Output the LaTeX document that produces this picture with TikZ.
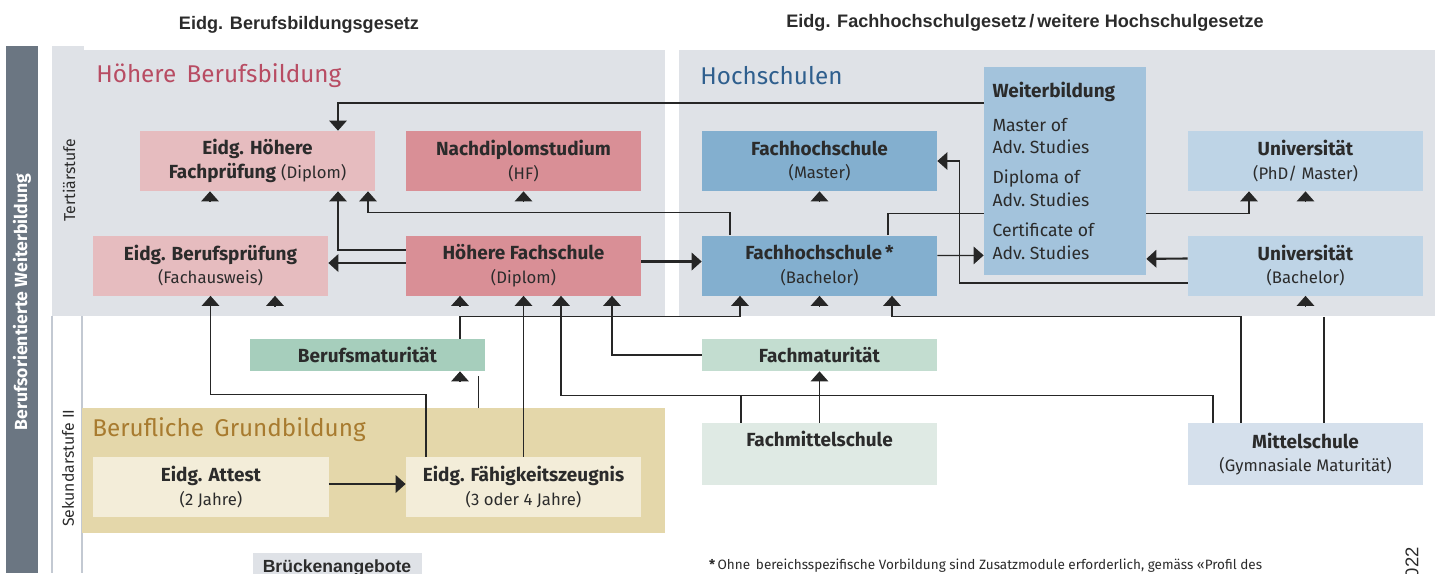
\documentclass[tikz,border=0pt]{standalone}
\usepackage{fontspec}
\setmainfont{Fira Sans}
\newfontfamily\arialfont{Liberation Sans}
\usetikzlibrary{arrows.meta,calc}

\definecolor{barcol}{HTML}{6B7682}
\definecolor{panel}{HTML}{DFE2E7}
\definecolor{seplin}{HTML}{C3C9D2}
\definecolor{pinkL}{HTML}{E6BCBF}
\definecolor{pinkD}{HTML}{D98F96}
\definecolor{blueD}{HTML}{83AFCF}
\definecolor{blueW}{HTML}{A3C3DC}
\definecolor{blueL}{HTML}{BED4E6}
\definecolor{greenD}{HTML}{A6CEBC}
\definecolor{greenM}{HTML}{C3DDD0}
\definecolor{greenL}{HTML}{DFEAE4}
\definecolor{msblue}{HTML}{D5E0EC}
\definecolor{gbcol}{HTML}{E4D7AA}
\definecolor{gbbox}{HTML}{F3EDD9}
\definecolor{hbbtitle}{HTML}{B84C63}
\definecolor{hstitle}{HTML}{2F5F8E}
\definecolor{gbtitle}{HTML}{A87B2F}
\definecolor{txt}{HTML}{2B2B2B}
\definecolor{linecol}{HTML}{262626}

\newcommand{\klein}[1]{{\fontsize{9.5}{13.5}\selectfont #1}}

\tikzset{
  box/.style={minimum width=47mm, minimum height=12mm, inner sep=0pt,
    align=center, text=txt, font=\fontsize{10.8}{13.5}\selectfont},
  flat/.style={box, minimum height=6.4mm},
  con/.style={draw=linecol, line width=0.7pt},
  heavy/.style={draw=linecol, line width=1.2pt},
  tip/.style={-{Triangle[width=3.5mm,length=2mm]}},
  title/.style={anchor=west, inner sep=0pt, font=\fontsize{13.8}{16}\selectfont},
  law/.style={font=\arialfont\bfseries\fontsize{10.3}{12}\selectfont, text=txt},
  stufe/.style={rotate=90, text=txt, font=\fontsize{9}{11}\selectfont}
}

\begin{document}
\begin{tikzpicture}[x=0.2mm,y=-0.2mm]
\useasboundingbox (0,0) rectangle (1435,573);

% Felder
\fill[barcol] (6,46) rectangle (38,573);
\fill[panel] (52,46) rectangle (84,316);
\fill[panel] (52,50) rectangle (665,316);
\fill[panel] (679,50) rectangle (1435,316);
\draw[seplin, line width=0.6pt] (52,316) -- (52,573);
\draw[seplin, line width=0.6pt] (82,316) -- (82,573);
\node[fill=gbcol, minimum width=116.6mm, minimum height=25mm, inner sep=0pt, anchor=north west] (gb) at (82,408) {};

\node[law] (bbg) at (299,25) {Eidg. Berufsbildungsgesetz};
\node[law] (fhg) at (1025,23) {Eidg. Fachhochschulgesetz\,/\,weitere Hochschulgesetze};
\node[rotate=90, text=white, font=\bfseries\fontsize{10}{12}\selectfont] (bar) at (22,302) {Berufsorientierte Weiterbildung};
\node[stufe] (tert) at (69,180) {Tertiärstufe};
\node[stufe] (sek) at (68,468) {Sekundarstufe II};

\node[title, text=hbbtitle] (hbb) at (96,76) {Höhere\, Berufsbildung};
\node[title, text=hstitle] (hs) at (700,76) {Hochschulen};
\node[title, text=gbtitle] (gbt) at (92,430) {Berufliche\, Grundbildung};

% Tertiärstufe
\node[box, fill=pinkL] (ehf) at (257.5,161) {\textbf{Eidg. Höhere}\\\textbf{Fachprüfung} \klein{(Diplom)}};
\node[box, fill=pinkD] (nds) at (523.5,161) {\textbf{Nachdiplomstudium}\\\klein{(HF)}};
\node[box, fill=blueD] (fhm) at (819.5,161) {\textbf{Fachhochschule}\\\klein{(Master)}};
\node[box, fill=blueL] (unim) at (1305.5,161) {\textbf{Universität}\\\klein{(PhD/ Master)}};
\node[box, fill=pinkL] (ebp) at (210.5,265.5) {\textbf{Eidg. Berufsprüfung}\\\klein{(Fachausweis)}};
\node[box, fill=pinkD] (hfs) at (523.5,265.5) {\textbf{Höhere Fachschule}\\\klein{(Diplom)}};
\node[box, fill=blueD] (fhb) at (819.5,265.5) {\textbf{Fachhochschule\,*}\\\klein{(Bachelor)}};
\node[box, fill=blueL] (unib) at (1305.5,265.5) {\textbf{Universität}\\\klein{(Bachelor)}};

% Sekundarstufe II
\node[flat, fill=greenD] (bm) at (367.5,355) {\textbf{Berufsmaturität}};
\node[flat, fill=greenM] (fm) at (819.5,355) {\textbf{Fachmaturität}};
\node[box, fill=gbbox] (attest) at (211,487) {\textbf{Eidg. Attest}\\\klein{(2 Jahre)}};
\node[box, fill=gbbox] (efz) at (523.5,487) {\textbf{Eidg. Fähigkeitszeugnis}\\\klein{(3 oder 4 Jahre)}};
\node[box, fill=greenL, minimum height=12.4mm] (fms) at (819.5,454) {\textbf{Fachmittelschule}\\\klein{\strut}};
\node[box, fill=msblue, minimum height=12.4mm] (ms) at (1305.5,454) {\textbf{Mittelschule}\\\klein{(Gymnasiale Maturität)}};

% hinter der Weiterbildung
\draw[con,tip] ($(fhb.north)+(68.5,0)$) -- ++(0,-22) -| ($(unim.south)+(-56.5,0)$);

\node[fill=blueW, minimum width=32.4mm, minimum height=41.6mm, inner sep=0pt, text=txt,
  font=\fontsize{10}{13}\selectfont] (wb) at (1065,171)
  {\begin{minipage}{29mm}{\fontsize{10.8}{13}\selectfont\textbf{Weiterbildung}}\\[6pt]
   Master of\\ Adv.\ Studies\\[4pt]
   Diploma of\\ Adv.\ Studies\\[4pt]
   Certificate of\\ Adv.\ Studies\end{minipage}};

% Verbindungen
\draw[con,tip] ($(wb.west)+(0,-68)$) -| ($(ehf.north)+(80.5,0)$);
\draw[con,tip] ($(hfs.west)+(0,-15.5)$) -| ($(ehf.south)+(80.5,0)$);
\draw[con,tip] ($(fhb.north)+(-89.5,0)$) -- ++(0,-23) -| ($(ehf.south)+(110.5,0)$);
\draw[heavy,tip] ($(hfs.west)+(0,-2.5)$) -- ($(ebp.east)+(0,-2.5)$);
\draw[heavy,tip] ($(hfs.east)+(0,-4)$) -- ($(fhb.west)+(0,-4)$);
\draw[con,tip] ($(fhb.east)+(0,-10)$) -- ($(wb.south west)+(0,-20)$);
\draw[heavy,tip] ($(unib.west)+(0,-7)$) -- ($(wb.south east)+(0,-16.5)$);
\draw[con,tip] ($(unib.west)+(0,17.5)$) -| ($(fhm.east)+(22,0)$) -- (fhm.east);
\draw[con,tip] ($(efz.north)+(-97.5,0)$) -- ++(0,-62) -| (ebp.south);
\draw[con,tip] (efz.north) -- (hfs.south);
\draw[con,tip] ($(ms.north)+(-92.5,0)$) -- ++(0,-27) -| ($(hfs.south)+(37.5,0)$);
\draw[con] ($(fms.north)+(-78.5,0)$) -- ++(0,-27);
\draw[con,tip] (fms.north) -- (fm.south);
\draw[con,tip] (fm.west) -| ($(hfs.south)+(88.5,0)$);
\draw[con,tip] ($(bm.north)+(92.5,0)$) -- ++(0,-22) -| ($(fhb.south)+(-79.5,0)$);
\draw[con,tip] ($(ms.north)+(-64.5,0)$) -- ++(0,-106) -| ($(fhb.south)+(72.5,0)$);
\draw[con] ($(ms.north)+(18.5,0)$) -- ++(0,-106);
\draw[con] ($(gb.north)+(104.5,0)$) -- ++(0,-32);
\draw[heavy,tip] ($(attest.east)+(0,-3)$) -- ($(efz.west)+(0,-3)$);

% Pfeilspitzen ohne Linie
\foreach \n/\dx in {ehf/-47.5, nds/0, fhm/0, unim/0, ebp/64.5, hfs/-63.5, fhb/0, unib/0, bm/92.5}
  \draw[con,tip] ($(\n.south)+(\dx,10)$) -- ($(\n.south)+(\dx,0)$);

% Fuss
\node[fill=panel, anchor=north, minimum width=33.8mm, minimum height=6mm, inner sep=0pt,
  font=\arialfont\bfseries\fontsize{10}{12}\selectfont, text=txt, text height=7pt] (bruecke) at (337,553) {Brückenangebote};
\node[anchor=base west, text=txt, font=\fontsize{7.7}{9}\selectfont] (fuss) at (703,569)
  {\textbf{*}\,Ohne\, bereichsspezifische Vorbildung sind Zusatzmodule erforderlich, gemäss «Profil des};
\node[rotate=90, anchor=east, text=txt, font=\arialfont\fontsize{10.5}{12}\selectfont] (jahr) at (1412,541) {022};
\end{tikzpicture}
\end{document}
